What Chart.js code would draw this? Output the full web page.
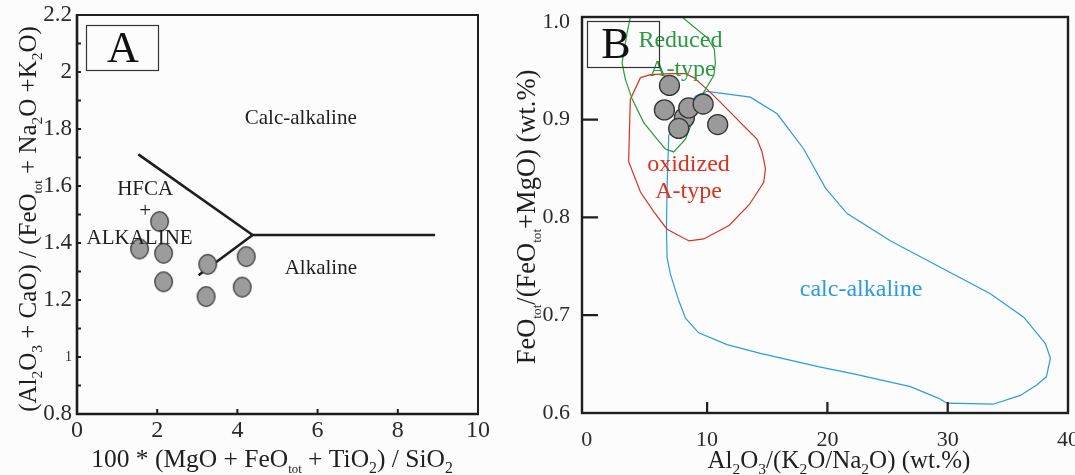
<!DOCTYPE html>
<html><head><meta charset="utf-8">
<script src="https://cdn.jsdelivr.net/npm/chart.js@4.4.1/dist/chart.umd.min.js"></script>
<style>
html,body{margin:0;padding:0;background:#fcfcfc;}
#wrap{position:relative;width:1075px;height:475px;overflow:hidden;background:#fcfcfc;}
#ca{position:absolute;left:0;top:0;}
#cb{position:absolute;left:500px;top:0;}
</style></head><body>
<div id="wrap"><canvas id="ca" width="500" height="475"></canvas><canvas id="cb" width="580" height="475"></canvas></div>
<script>
// ---------- Panel A data ----------
const panelA_x = [2.06, 1.56, 2.16, 2.16, 3.26, 3.22, 4.22, 4.12];
const panelA_y = [1.475, 1.379, 1.364, 1.264, 1.325, 1.212, 1.352, 1.245];
const boundaryUpper_x = [1.53, 4.38, 8.93];
const boundaryUpper_y = [1.711, 1.428, 1.428];
const boundaryLower_x = [3.03, 4.38];
const boundaryLower_y = [1.287, 1.428];
const panelA_xTicks = [0, 2, 4, 6, 8, 10];
const panelA_yTicks = [0.8, 1, 1.2, 1.4, 1.6, 1.8, 2, 2.2];
const panelA_yMinor = [0.9, 1.1, 1.3, 1.5, 1.7, 1.9, 2.1];
const panelA_labels = ['Calc-alkaline', 'HFCA', '+', 'ALKALINE', 'Alkaline'];
const panelA_label_x = [5.58, 1.70, 1.70, 1.56, 6.08];
const panelA_label_y = [1.816, 1.568, 1.51, 1.395, 1.291];

// ---------- Panel B data ----------
const panelB_x = [8.11, 6.87, 6.45, 8.47, 9.67, 7.64, 10.88];
const panelB_y = [0.902, 0.935, 0.910, 0.912, 0.916, 0.891, 0.895];
const reduced_x = [3.74, 3.35, 2.93, 3.21, 3.77, 4.73, 5.84, 6.53, 7.22, 8.20, 9.72, 10.55, 10.69, 10.60, 10.00, 8.89, 7.92, 7.24];
const reduced_y = [1.012, 0.989, 0.958, 0.941, 0.921, 0.897, 0.880, 0.870, 0.867, 0.880, 0.928, 0.945, 0.958, 0.972, 0.984, 0.995, 1.005, 1.012];
const oxidized_x = [4.46, 5.29, 6.95, 8.20, 8.89, 10.0, 11.1, 12.77, 14.16, 14.57, 14.85, 14.71, 13.5, 11.85, 9.72, 8.5, 6.67, 5.56, 4.46, 3.48, 3.54, 3.62, 4.46];
const oxidized_y = [0.943, 0.946, 0.947, 0.947, 0.943, 0.931, 0.918, 0.897, 0.880, 0.867, 0.850, 0.836, 0.813, 0.792, 0.778, 0.776, 0.788, 0.806, 0.826, 0.857, 0.887, 0.921, 0.943];
const calcalk_x = [6.81, 9.03, 10.0, 13.6, 15.82, 18.03, 19.84, 21.64, 25.26, 33.55, 36.32, 38.12, 38.54, 38.2, 37.43, 36.04, 33.77, 29.95, 29.25, 26.9, 22.19, 19.42, 14.43, 11.66, 9.3, 8.2, 7.64, 6.95, 6.67, 6.62, 6.67, 6.81];
const calcalk_y = [0.884, 0.924, 0.929, 0.923, 0.906, 0.870, 0.830, 0.804, 0.776, 0.722, 0.698, 0.671, 0.656, 0.637, 0.629, 0.618, 0.609, 0.610, 0.615, 0.627, 0.640, 0.647, 0.661, 0.670, 0.682, 0.697, 0.715, 0.742, 0.759, 0.789, 0.830, 0.884];
const panelB_xTicks = [0, 10, 20, 30, 40];
const panelB_yTicks = [0.6, 0.7, 0.8, 0.9, 1.0];
const panelB_innerX = [10, 20, 30];
const panelB_innerY = [0.7, 0.8, 0.9];
const panelB_labels = ['Reduced', 'A-type', 'oxidized', 'A-type', 'calc-alkaline'];
const panelB_label_x = [7.78, 7.95, 8.45, 8.45, 22.8];
const panelB_label_y = [0.974, 0.945, 0.848, 0.820, 0.720];

// ---------- styling ----------
const SERIF = '"Liberation Serif", "Times New Roman", serif';
const INK = '#1e1e1e';
const GREEN = '#2b9a3e', RED = '#d8321f', BLUE = '#2c9be0';
const zip = (xs, ys) => xs.map((x, i) => ({x: x, y: ys[i]}));

function richDraw(ctx, parts, size, color, x, y, rotate) {
  ctx.save();
  ctx.fillStyle = color;
  ctx.textBaseline = 'alphabetic';
  ctx.textAlign = 'left';
  let w = 0;
  for (const p of parts) { ctx.font = (size * p[1]) + 'px ' + SERIF; w += ctx.measureText(p[0]).width; }
  ctx.translate(x, y);
  if (rotate) ctx.rotate(-Math.PI / 2);
  let cx = -w / 2;
  for (const p of parts) {
    ctx.font = (size * p[1]) + 'px ' + SERIF;
    ctx.fillText(p[0], cx, p[2] * size);
    cx += ctx.measureText(p[0]).width;
  }
  ctx.restore();
}
const N = t => [t, 1, 0];
const S = t => [t, 0.62, 0.22];
const T = t => [t, 0.5, 0.22];

function ellipseMarker() {
  const c = document.createElement('canvas');
  c.width = 21; c.height = 23;
  const g = c.getContext('2d');
  g.beginPath(); g.ellipse(10.5, 11.5, 8.8, 9.8, 0, 0, Math.PI * 2);
  g.fillStyle = '#9c9c9c'; g.fill();
  g.lineWidth = 1.3; g.strokeStyle = '#3a3a3a'; g.stroke();
  return c;
}

// ---------- Panel A ----------
const panelAPlugin = {
  id: 'panelA',
  afterDatasetsDraw(chart) {
    const ctx = chart.ctx, xs = chart.scales.x, ys = chart.scales.y;
    ctx.save();
    ctx.fillStyle = INK; ctx.textAlign = 'center'; ctx.textBaseline = 'alphabetic';
    ctx.font = '21px ' + SERIF;
    panelA_labels.forEach((t, i) => {
      ctx.textBaseline = t === '+' ? 'middle' : 'alphabetic';
      ctx.fillText(t, xs.getPixelForValue(panelA_label_x[i]), ys.getPixelForValue(panelA_label_y[i]));
    });
    ctx.restore();
  },
  afterDraw(chart) {
    const ctx = chart.ctx, a = chart.chartArea, xs = chart.scales.x, ys = chart.scales.y;
    ctx.save();
    ctx.strokeStyle = INK;
    ctx.lineWidth = 2;
    ctx.beginPath(); ctx.moveTo(a.left, a.top); ctx.lineTo(a.right, a.top); ctx.lineTo(a.right, a.bottom); ctx.stroke();
    ctx.lineWidth = 2.6;
    ctx.beginPath(); ctx.moveTo(a.left, a.top - 1); ctx.lineTo(a.left, a.bottom); ctx.lineTo(a.right + 1, a.bottom); ctx.stroke();
    ctx.lineWidth = 2;
    ctx.beginPath();
    panelA_yMinor.concat(panelA_yTicks).forEach(v => { const p = ys.getPixelForValue(v); ctx.moveTo(a.left, p); ctx.lineTo(a.left + 4, p); });
    panelA_xTicks.slice(1, -1).forEach(v => { const p = xs.getPixelForValue(v); ctx.moveTo(p, a.bottom); ctx.lineTo(p, a.bottom - 5); });
    ctx.stroke();
    // panel letter box
    ctx.lineWidth = 1.2; ctx.strokeStyle = '#333';
    ctx.strokeRect(a.left + 9.5, a.top + 10.5, 72, 45);
    ctx.fillStyle = '#111'; ctx.font = '44px ' + SERIF; ctx.textAlign = 'center'; ctx.textBaseline = 'alphabetic';
    ctx.fillText('A', a.left + 46, a.top + 47);
    ctx.restore();
    // axis titles
    richDraw(ctx, [N('100 * (MgO + FeO'), T('tot'), N(' + TiO'), S('2'), N(') / SiO'), S('2')], 25.5, INK, 272, 467, false);
    richDraw(ctx, [N('(Al'), S('2'), N('O'), S('3'), N(' + CaO) / (FeO'), T('tot'), N(' + Na'), S('2'), N('O +K'), S('2'), N('O)')], 25, INK, 36, 219, true);
  }
};

new Chart(document.getElementById('ca'), {
  type: 'scatter',
  data: {
    datasets: [
      { data: zip(panelA_x, panelA_y), pointStyle: ellipseMarker(), order: 0 },
      { data: zip(boundaryUpper_x, boundaryUpper_y), showLine: true, pointRadius: 0, borderColor: '#1e1e1e', borderWidth: 2.6, order: 1 },
      { data: zip(boundaryLower_x, boundaryLower_y), showLine: true, pointRadius: 0, borderColor: '#1e1e1e', borderWidth: 2.6, order: 2 }
    ]
  },
  options: {
    responsive: false, animation: false, devicePixelRatio: 1, events: [],
    layout: { padding: { left: 0, top: 15, right: 22, bottom: 0 } },
    plugins: { legend: { display: false }, tooltip: { enabled: false } },
    scales: {
      x: {
        type: 'linear', min: 0, max: 10,
        grid: { display: false, drawTicks: false, tickLength: 0 }, border: { display: false },
        afterBuildTicks: s => { s.ticks = panelA_xTicks.map(v => ({ value: v })); },
        afterFit: s => { s.height = 61; s.paddingLeft = 0; s.paddingRight = 0; },
        ticks: { padding: 2, color: '#2a2a2a', font: { family: SERIF, size: 24 }, maxRotation: 0, callback: v => String(v) }
      },
      y: {
        type: 'linear', min: 0.8, max: 2.2,
        grid: { display: false, drawTicks: false, tickLength: 0 }, border: { display: false },
        afterBuildTicks: s => { s.ticks = panelA_yTicks.map(v => ({ value: v })); },
        afterFit: s => { s.width = 77; s.paddingTop = 0; s.paddingBottom = 0; },
        ticks: {
          padding: 5, color: '#2a2a2a',
          font: c => ({ family: SERIF, size: (c.tick && c.tick.value === 1) ? 14 : 23 }),
          callback: v => String(Number(v.toFixed(1)))
        }
      }
    }
  },
  plugins: [panelAPlugin]
});

// ---------- Panel B ----------
const panelBPlugin = {
  id: 'panelB',
  afterDatasetsDraw(chart) {
    const ctx = chart.ctx, xs = chart.scales.x, ys = chart.scales.y;
    const cols = [GREEN, GREEN, RED, RED, BLUE];
    ctx.save();
    ctx.textAlign = 'center'; ctx.textBaseline = 'alphabetic'; ctx.font = '24px ' + SERIF;
    panelB_labels.forEach((t, i) => {
      ctx.fillStyle = cols[i];
      ctx.fillText(t, xs.getPixelForValue(panelB_label_x[i]), ys.getPixelForValue(panelB_label_y[i]));
    });
    ctx.restore();
  },
  afterDraw(chart) {
    const ctx = chart.ctx, a = chart.chartArea, xs = chart.scales.x, ys = chart.scales.y;
    ctx.save();
    ctx.strokeStyle = INK; ctx.lineWidth = 2.4;
    ctx.strokeRect(a.left, a.top, a.right - a.left, a.bottom - a.top);
    ctx.lineWidth = 2.2;
    ctx.beginPath();
    panelB_innerY.forEach(v => { const p = ys.getPixelForValue(v); ctx.moveTo(a.left, p); ctx.lineTo(a.left + 16, p); });
    panelB_innerX.forEach(v => { const p = xs.getPixelForValue(v); ctx.moveTo(p, a.bottom); ctx.lineTo(p, a.bottom - 11); });
    ctx.stroke();
    ctx.lineWidth = 1.2; ctx.strokeStyle = '#333';
    ctx.strokeRect(a.left + 5.5, a.top + 4.5, 72, 46);
    ctx.fillStyle = '#111'; ctx.font = '44px ' + SERIF; ctx.textAlign = 'center'; ctx.textBaseline = 'alphabetic';
    ctx.fillText('B', a.left + 34, a.top + 41);
    ctx.restore();
    richDraw(ctx, [N('Al'), S('2'), N('O'), S('3'), N('/(K'), S('2'), N('O/Na'), S('2'), N('O) (wt.%)')], 25, INK, 339, 468, false);
    richDraw(ctx, [N('FeO'), T('tot'), N('/(FeO'), T('tot'), N('+MgO) (wt.%)')], 26.5, INK, 35, 217, true);
  }
};

const polyStyle = c => ({ showLine: true, pointRadius: 0, borderColor: c, borderWidth: 1.2, tension: 0, fill: false });
new Chart(document.getElementById('cb'), {
  type: 'scatter',
  data: {
    datasets: [
      { data: zip(panelB_x, panelB_y), pointStyle: 'circle', pointRadius: 10, backgroundColor: '#9a9a9a', borderColor: '#333', borderWidth: 1.3, order: 0 },
      Object.assign({ data: zip(reduced_x, reduced_y), order: 1 }, polyStyle(GREEN)),
      Object.assign({ data: zip(oxidized_x, oxidized_y), order: 2 }, polyStyle(RED)),
      Object.assign({ data: zip(calcalk_x, calcalk_y), order: 3 }, polyStyle(BLUE))
    ]
  },
  options: {
    responsive: false, animation: false, devicePixelRatio: 1, events: [],
    layout: { padding: { left: 0, top: 17, right: 12, bottom: 0 } },
    plugins: { legend: { display: false }, tooltip: { enabled: false } },
    scales: {
      x: {
        type: 'linear', min: -0.4, max: 40,
        grid: { display: false, drawTicks: false, tickLength: 0 }, border: { display: false },
        afterBuildTicks: s => { s.ticks = panelB_xTicks.map(v => ({ value: v })); },
        afterFit: s => { s.height = 62; s.paddingLeft = 0; s.paddingRight = 0; },
        ticks: { padding: 14, color: '#2a2a2a', font: { family: SERIF, size: 22 }, maxRotation: 0, callback: v => String(v) }
      },
      y: {
        type: 'linear', min: 0.6, max: 1.005,
        grid: { display: false, drawTicks: false, tickLength: 0 }, border: { display: false },
        afterBuildTicks: s => { s.ticks = panelB_yTicks.map(v => ({ value: v })); },
        afterFit: s => { s.width = 82; s.paddingTop = 0; s.paddingBottom = 0; },
        ticks: { padding: 12, color: '#2a2a2a', font: { family: SERIF, size: 22 }, callback: v => v.toFixed(1) }
      }
    }
  },
  plugins: [panelBPlugin]
});
</script>
</body></html>
